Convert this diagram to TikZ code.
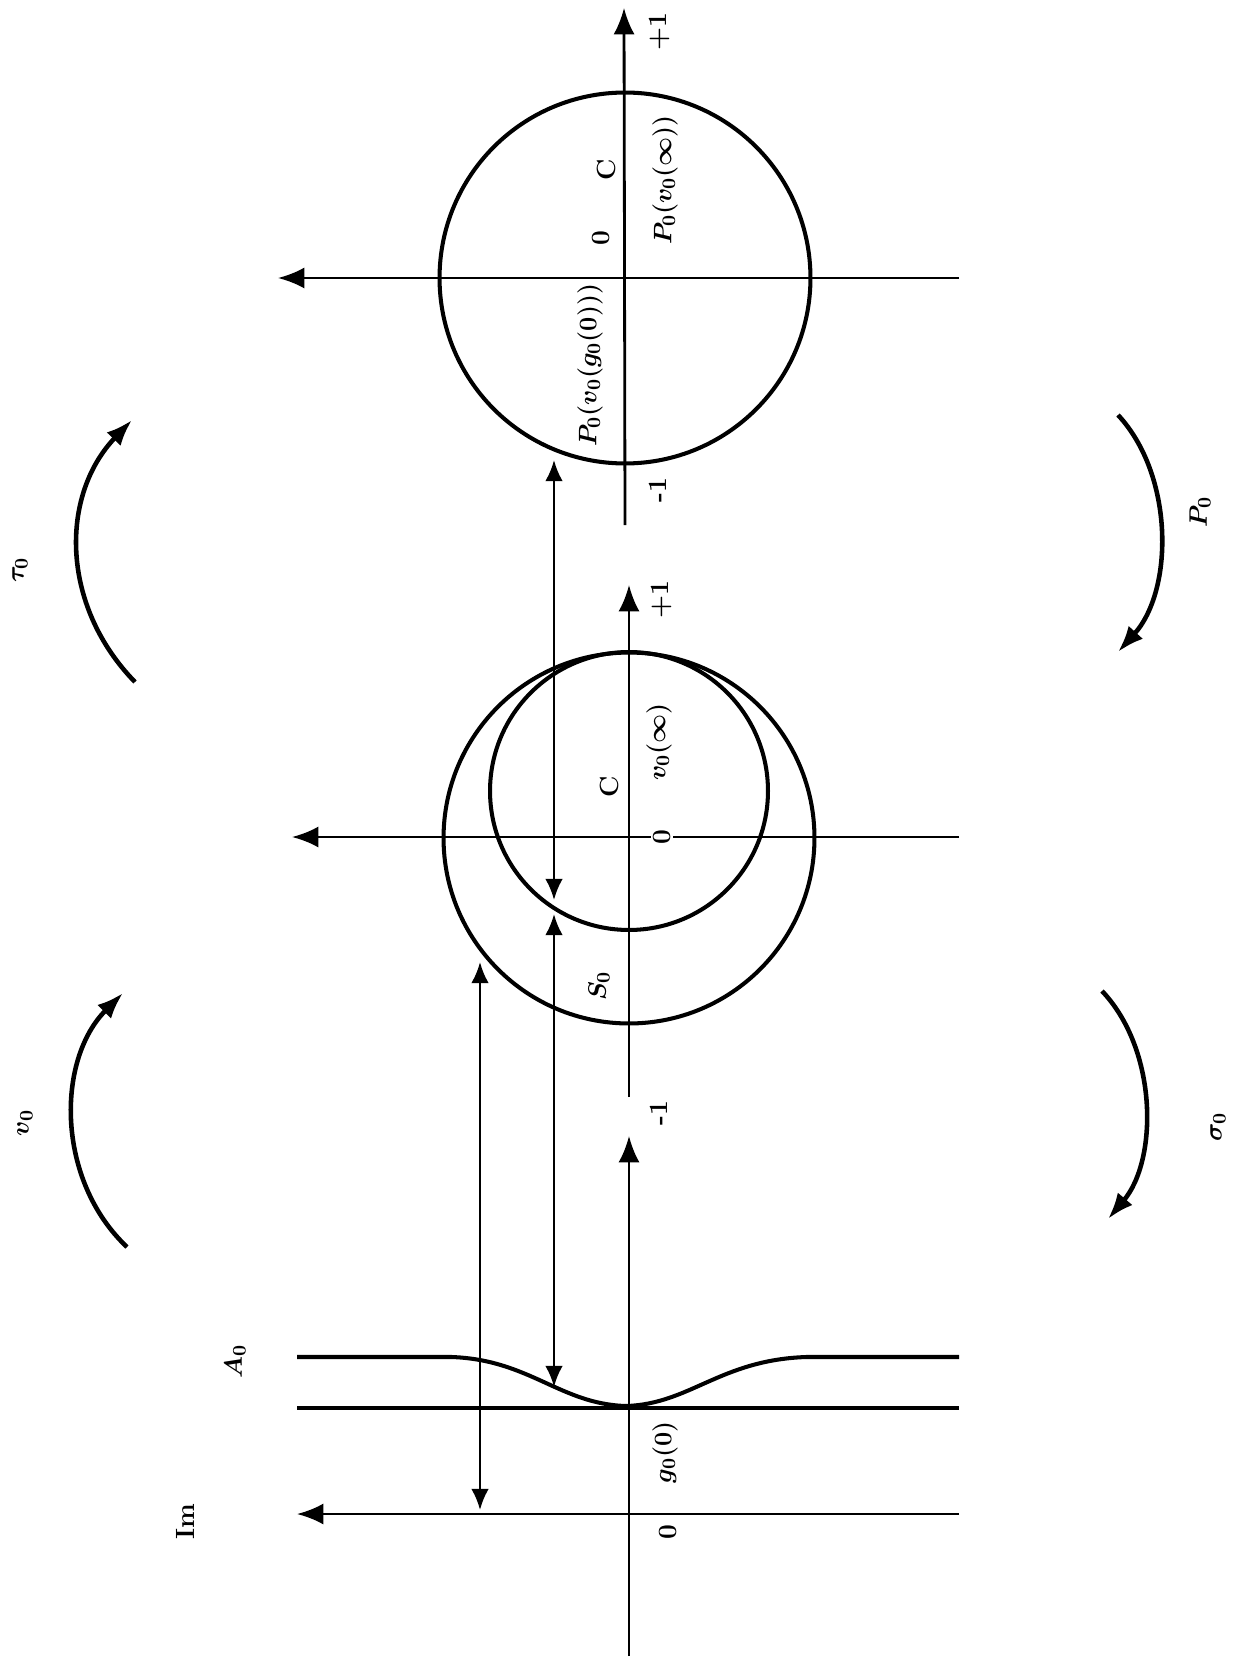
\documentclass[tikz,border=0pt]{standalone}
\usepackage{tikz}
\usetikzlibrary{arrows.meta}

\begin{document}
\begin{tikzpicture}[
 x=0.02cm,y=-0.02cm,
 lab/.style={rotate=90,inner sep=0pt,font=\fontsize{15}{18}\selectfont\bfseries\boldmath},
 ax/.style={line width=1.6pt},
 axa/.style={ax,-{Latex[length=15pt,width=12pt]}},
 crc/.style={line width=2.3pt},
 dbl/.style={line width=1.5pt,{Latex[length=12pt,width=10pt]}-{Latex[length=12pt,width=10pt]}},
 map/.style={line width=2.6pt,-{Latex[length=15pt,width=11pt]}}]
\fill[white] (0,0) rectangle (1242,1662);
\useasboundingbox (0,0) rectangle (1242,1662);
% upper plane
\coordinate (O3) at (625,278);
\coordinate (R3s) at (625,525); \coordinate (R3e) at (624,8);
\coordinate (I3s) at (959,278); \coordinate (I3e) at (278,278);
\draw[axa] (R3s) -- (R3e);
\draw[axa] (I3s) -- (I3e);
\draw[crc] (O3) circle[radius=3.71cm];
\node[lab] (C3) at (606,170) {C};
\node[lab] (z3) at (601,238) {0};
\node[lab] (p3) at (660,32) {+1};
\node[lab] (m3) at (658,490) {-1};
\node[lab] (Pg) at (590,365) {$P_0(v_0(g_0(0)))$};
\node[lab] (Pinf) at (665,180) {$P_0(v_0(\infty))$};
% middle plane
\coordinate (O2) at (629,838);
\coordinate (O2s) at (629,791);
\coordinate (R2s) at (629,1097); \coordinate (R2e) at (629,585);
\coordinate (I2s) at (959,837); \coordinate (I2e) at (292,837);
\draw[axa] (R2s) -- (R2e);
\draw[axa] (I2s) -- (I2e);
\draw[crc] (O2) circle[radius=3.71cm];
\draw[crc] (O2s) circle[radius=2.78cm];
\node[lab] (C2) at (609,787) {C};
\node[lab,fill=white,inner sep=1pt] (z2) at (662,837) {0};
\node[lab] (p2) at (662,600) {+1};
\node[lab] (m2) at (659,1113) {-1};
\node[lab] (vinf) at (659,742) {$v_0(\infty)$};
\node[lab] (S0) at (599,986) {$S_0$};
% lower half plane
\coordinate (R1s) at (629,1656); \coordinate (R1e) at (629,1136);
\coordinate (I1s) at (959,1514); \coordinate (I1e) at (297,1514);
\coordinate (L1s) at (297,1408); \coordinate (L1e) at (959,1408);
\coordinate (A0s) at (297,1357); \coordinate (A0a) at (452,1357);
\coordinate (A0m) at (626,1406);
\coordinate (A0b) at (806,1357); \coordinate (A0e) at (959,1357);
\draw[axa] (R1s) -- (R1e);
\draw[axa] (I1s) -- (I1e);
\draw[crc] (L1s) -- (L1e);
\draw[crc] (A0s) -- (A0a) .. controls (530,1360) and (560,1404) .. (A0m)
 .. controls (690,1404) and (720,1360) .. (A0b) -- (A0e);
\node[lab] (z1) at (668,1532) {0};
\node[lab] (g0) at (665,1452) {$g_0(0)$};
\node[lab] (Im) at (185,1522) {Im};
\node[lab] (A0) at (235,1362) {$A_0$};
% correspondences
\coordinate (da1) at (480,962); \coordinate (da2) at (480,1510);
\coordinate (db1) at (554,914); \coordinate (db2) at (554,1387);
\coordinate (dc1) at (554,460); \coordinate (dc2) at (554,900);
\draw[dbl] (da1) -- (da2);
\draw[dbl] (db1) -- (db2);
\draw[dbl] (dc1) -- (dc2);
% maps
\coordinate (t0s) at (135,682); \coordinate (t0e) at (132,420);
\coordinate (v0s) at (127,1247); \coordinate (v0e) at (123,993);
\coordinate (P0s) at (1118,415); \coordinate (P0e) at (1118,652);
\coordinate (s0s) at (1102,991); \coordinate (s0e) at (1108,1219);
\draw[map] (t0s) .. controls (60,605) and (60,495) .. (t0e);
\draw[map] (v0s) .. controls (56,1180) and (56,1060) .. (v0e);
\draw[map] (P0s) .. controls (1174,475) and (1174,590) .. (P0e);
\draw[map] (s0s) .. controls (1158,1050) and (1158,1160) .. (s0e);
\node[lab] (tau) at (20,570) {$\tau_0$};
\node[lab] (nu) at (25,1123) {$v_0$};
\node[lab] (P0) at (1200,512) {$P_0$};
\node[lab] (sig) at (1218,1127) {$\sigma_0$};
\end{tikzpicture}
\end{document}
